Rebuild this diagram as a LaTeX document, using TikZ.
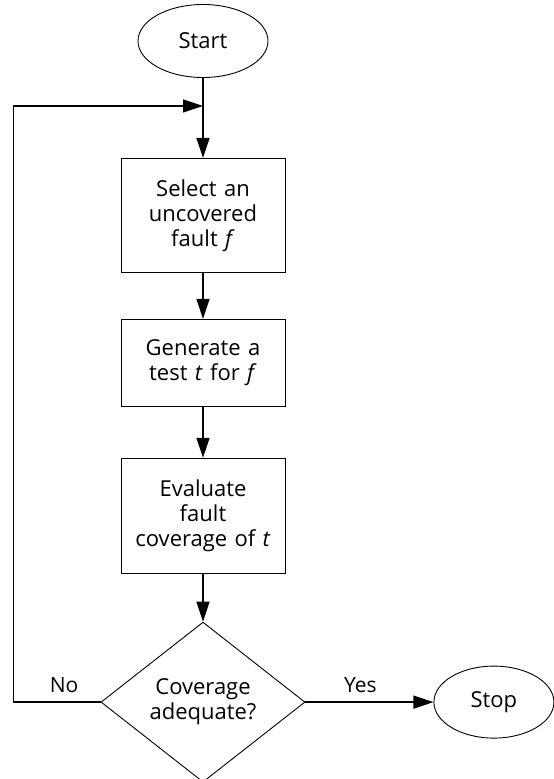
\documentclass[tikz,border=0pt]{standalone}
\usepackage{fontspec}
\setmainfont{Open Sans}
\usetikzlibrary{arrows.meta,positioning,calc,shapes.geometric}
\definecolor{flowblack}{RGB}{0,0,0}
\tikzset{
  term/.style={ellipse, draw=flowblack, line width=0.9pt, inner sep=0pt,
               minimum width=130pt, minimum height=73pt, font=\fontsize{22}{25}\selectfont},
  pbox/.style={draw=flowblack, line width=0.9pt, minimum width=164pt, inner sep=2pt,
               text width=156pt, align=center, font=\fontsize{22}{25}\selectfont},
  decide/.style={diamond, draw=flowblack, line width=0.9pt, inner sep=0pt, align=center,
               minimum width=204pt, minimum height=160pt, font=\fontsize{22}{25}\selectfont},
  flow/.style={-{Triangle[length=20pt,width=13pt]}, line width=1.4pt, draw=flowblack},
  tag/.style={font=\fontsize{21}{24}\selectfont, inner sep=3pt, yshift=6pt},
}

\begin{document}
\begin{tikzpicture}
    \useasboundingbox (0,0) rectangle (554pt,-779pt);
    \node[term] (start) at (203pt,-41pt) {Start};
    \node[pbox, minimum height=114pt, below=80pt of start] (select) {Select an\\ uncovered\\ fault \textit{f}};
    \node[pbox, minimum height=87pt, below=46pt of select] (gen) {Generate a\\ test \textit{t} for \textit{f}};
    \node[pbox, minimum height=115pt, below=51pt of gen] (eval) {Evaluate\\ fault\\ coverage of \textit{t}};
    \node[decide, below=48pt of eval] (check) {Coverage\\ adequate?};
    \node[term, minimum width=120pt, minimum height=72pt, right=128pt of check] (stop) {Stop};
    \coordinate (join) at ($(start.south)+(0,-28pt)$);
    \draw[flow] (start) -- (select);
    \draw[flow] (select) -- (gen);
    \draw[flow] (gen) -- (eval);
    \draw[flow] (eval) -- (check);
    \draw[flow] (check) -- node[tag, above, pos=0.43]{Yes} (stop);
    \draw[flow] (check.west) -- node[tag, above, pos=0.42]{No} ++(-87pt,0) |- (join);
\end{tikzpicture}
\end{document}
